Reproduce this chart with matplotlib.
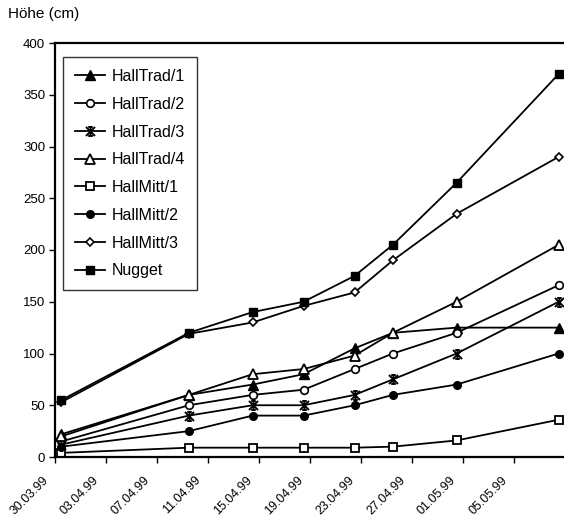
import matplotlib
matplotlib.use("Agg")
import matplotlib.pyplot as plt
import matplotlib.transforms as mtransforms
import pandas as pd
from matplotlib.path import Path

plt.rcParams['font.family'] = ['Liberation Sans', 'DejaVu Sans']

dates = ["30.03.99", "09.04.99", "14.04.99", "18.04.99", "22.04.99", "25.04.99", "30.04.99", "08.05.99"]
tick_labels = ["30.03.99", "03.04.99", "07.04.99", "11.04.99", "15.04.99", "19.04.99",
               "23.04.99", "27.04.99", "01.05.99", "05.05.99"]

hall_trad_1 = [22, 60, 70, 80, 105, 120, 125, 125]
hall_trad_2 = [15, 50, 60, 65, 85, 100, 120, 166]
hall_trad_3 = [12, 40, 50, 50, 60, 75, 100, 150]
hall_trad_4 = [20, 60, 80, 85, 98, 120, 150, 205]
hall_mitt_1 = [4, 9, 9, 9, 9, 10, 16, 36]
hall_mitt_2 = [10, 25, 40, 40, 50, 60, 70, 100]
hall_mitt_3 = [53, 119, 130, 146, 159, 190, 235, 290]
nugget = [55, 120, 140, 150, 175, 205, 265, 370]

start = pd.to_datetime(dates[0], format="%d.%m.%y")
x = [(pd.to_datetime(d, format="%d.%m.%y") - start).days + 0.5 for d in dates]
tick_pos = [(pd.to_datetime(d, format="%d.%m.%y") - start).days for d in tick_labels]

# Excel-like star marker
star = Path([(-1, -1), (1, 1), (-1, 1), (1, -1), (0, -1), (0, 1),
             (-0.5, 1), (0.5, 1), (-0.5, -1), (0.5, -1)],
            [Path.MOVETO, Path.LINETO, Path.MOVETO, Path.LINETO, Path.MOVETO, Path.LINETO,
             Path.MOVETO, Path.LINETO, Path.MOVETO, Path.LINETO])

W, H = 564, 532
fig = plt.figure(figsize=(W / 100, H / 100), dpi=100)
ax = fig.add_axes([55 / W, (H - 457) / H, 510 / W, (457 - 43) / H])

lw = 1.3
series = [
    ("HallTrad/1", hall_trad_1, dict(marker='^', ms=6.5, mfc='black', mec='black')),
    ("HallTrad/2", hall_trad_2, dict(marker='o', ms=5.5, mfc='white', mec='black', mew=1.2)),
    ("HallTrad/3", hall_trad_3, dict(marker=star, ms=6.5, mfc='none', mec='black', mew=1.4)),
    ("HallTrad/4", hall_trad_4, dict(marker='^', ms=7, mfc='white', mec='black', mew=1.3)),
    ("HallMitt/1", hall_mitt_1, dict(marker='s', ms=5.5, mfc='white', mec='black', mew=1.3)),
    ("HallMitt/2", hall_mitt_2, dict(marker='o', ms=5.5, mfc='black', mec='black')),
    ("HallMitt/3", hall_mitt_3, dict(marker='D', ms=4.5, mfc='white', mec='black', mew=1.2)),
    ("Nugget", nugget, dict(marker='s', ms=6, mfc='black', mec='black')),
]
for name, vals, st in series:
    ax.plot(x, vals, color='black', lw=lw, label=name, clip_on=False, **st)

ax.set_xlim(0, 40)
ax.set_ylim(0, 400)
ax.set_yticks(range(0, 401, 50))
ax.set_xticks(tick_pos)
ax.set_xticklabels(tick_labels, rotation=45, ha='right', rotation_mode='anchor', fontsize=9)
ax.tick_params(axis='y', direction='out', length=4, width=1, labelsize=9.5, pad=3)
ax.tick_params(axis='x', direction='out', length=4, width=1, pad=12)
shift = mtransforms.ScaledTranslation(-13 / 100, 5 / 100, fig.dpi_scale_trans)
for lab in ax.get_xticklabels():
    lab.set_transform(lab.get_transform() + shift)

for s in ['left', 'bottom', 'top']:
    ax.spines[s].set_linewidth(1.6)
ax.spines['right'].set_visible(False)

leg = ax.legend(loc='upper left', bbox_to_anchor=(63 / W, 1 - 57 / H),
                bbox_transform=fig.transFigure, frameon=True, fancybox=False,
                edgecolor='black', fontsize=11.5, handlelength=1.9, handletextpad=0.4,
                labelspacing=0.8, borderpad=0.75, borderaxespad=0)
leg.get_frame().set_linewidth(1.0)

fig.text(8 / W, 1 - 14 / H, "Höhe (cm)", fontsize=11, va='center', ha='left')

fig.savefig("out.png", dpi=100)
